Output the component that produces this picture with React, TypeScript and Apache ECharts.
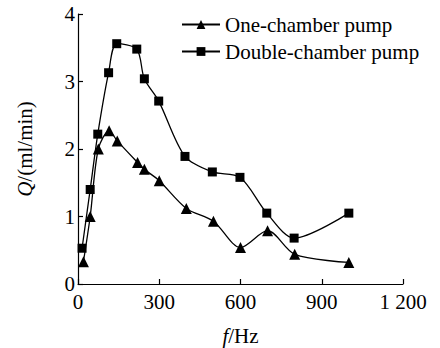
import React, { useEffect, useRef } from "react";
import * as echarts from "echarts";

const oneFreq = [20, 45, 75, 115, 145, 220, 245, 300, 400, 500, 600, 700, 800, 1000];
const oneQ = [0.33, 1.0, 2.0, 2.27, 2.12, 1.8, 1.7, 1.53, 1.12, 0.93, 0.54, 0.79, 0.44, 0.32];
const dblFreq = [15, 45, 73, 113, 143, 217, 245, 298, 395, 496, 598, 697, 798, 1000];
const dblQ = [0.53, 1.4, 2.22, 3.13, 3.56, 3.48, 3.04, 2.71, 1.89, 1.66, 1.58, 1.05, 0.68, 1.05];
const seriesNames = ["One-chamber pump", "Double-chamber pump"];
const xTickLabels: Record<number, string> = { 0: "0", 300: "300", 600: "600", 900: "900", 1200: "1 200" };

const FONT = "Liberation Serif";

export default function App() {
  const ref = useRef<HTMLDivElement>(null);
  useEffect(() => {
    if (!ref.current) return;
    const chart = echarts.init(ref.current, null, { renderer: "svg" });
    const axisCommon = {
      axisLine: { show: true, lineStyle: { color: "#000", width: 1.2 } },
      axisTick: { show: true, inside: true, length: 5, lineStyle: { color: "#000", width: 1.2 } },
      splitLine: { show: false },
    };
    chart.setOption({
      animation: false,
      backgroundColor: "#fff",
      textStyle: { fontFamily: FONT, color: "#000" },
      grid: { left: 78, right: 37, top: 14, bottom: 64, containLabel: false, outerBoundsMode: "none" },
      legend: {
        orient: "vertical",
        left: 176,
        top: 9,
        itemWidth: 38,
        itemHeight: 11,
        itemGap: 6,
        textStyle: { fontFamily: FONT, fontSize: 21, color: "#000" },
        data: seriesNames,
      },
      xAxis: {
        type: "value",
        min: 0,
        max: 1200,
        interval: 300,
        ...axisCommon,
        axisLabel: {
          color: "#000",
          fontFamily: FONT,
          fontSize: 21,
          margin: 7,
          formatter: (v: number) => xTickLabels[v] ?? String(v),
        },
        name: "{i|f}/Hz",
        nameLocation: "middle",
        nameGap: 42,
        nameTextStyle: {
          color: "#000",
          fontFamily: FONT,
          fontSize: 21,
          lineHeight: 20,
          rich: { i: { fontStyle: "italic", fontFamily: FONT, fontSize: 21, lineHeight: 20, color: "#000" } },
        },
      },
      yAxis: {
        type: "value",
        min: 0,
        max: 4,
        interval: 1,
        ...axisCommon,
        axisLabel: { color: "#000", fontFamily: FONT, fontSize: 21, margin: 3 },
        name: "{i|Q}/(ml/min)",
        nameLocation: "middle",
        nameGap: 43,
        nameTextStyle: {
          color: "#000",
          fontFamily: FONT,
          fontSize: 21,
          rich: { i: { fontStyle: "italic", fontFamily: FONT, fontSize: 21, color: "#000" } },
        },
      },
      series: [
        {
          name: seriesNames[0],
          type: "line",
          data: oneFreq.map((f, i) => [f, oneQ[i]]),
          smooth: 0.3,
          symbol: "triangle",
          symbolSize: 11,
          lineStyle: { color: "#000", width: 1.3 },
          itemStyle: { color: "#000" },
        },
        {
          name: seriesNames[1],
          type: "line",
          data: dblFreq.map((f, i) => [f, dblQ[i]]),
          smooth: 0.3,
          symbol: "rect",
          symbolSize: 9,
          lineStyle: { color: "#000", width: 1.3 },
          itemStyle: { color: "#000" },
        },
      ],
    });
    return () => chart.dispose();
  }, []);
  return <div ref={ref} style={{ width: 440, height: 348, position: "absolute", left: 0, top: 0 }} />;
}
